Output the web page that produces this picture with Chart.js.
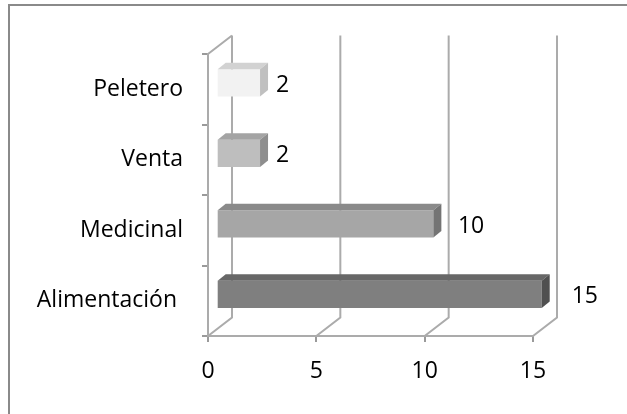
<!DOCTYPE html>
<html>
<head>
<meta charset="utf-8">
<script src="https://cdn.jsdelivr.net/npm/chart.js@4/dist/chart.umd.min.js"></script>
<style>
  html, body { margin: 0; padding: 0; background: #fff; }
  #wrap { position: relative; width: 627px; height: 414px; }
</style>
</head>
<body>
<div id="wrap"><canvas id="c" width="627" height="414"></canvas></div>
<script>
// Categories from top to bottom, with their counts
const categories = ['Peletero', 'Venta', 'Medicinal', 'Alimentación '];
const values = [2, 2, 10, 15];
const xTickValues = [0, 5, 10, 15];

// Shades of gray for the front, top and side faces of each box
const frontColors = ['#f2f2f2', '#bebebe', '#a6a6a6', '#7f7f7f'];
const topColors   = ['#d2d2d2', '#a4a4a4', '#8a8a8a', '#676767'];
const sideColors  = ['#c0c0c0', '#8e8e8e', '#747474', '#505050'];

const FONT = "'Open Sans', 'Noto Sans', sans-serif";
const FONT_SIZE = 23;
const LINE = '#ababab';
const WALL = { dx: 24, dy: -18.5 };       // offset of the back wall
const BAR_SHIFT = { dx: 8.7, dy: -6.4 };  // boxes sit a little inside the depth
const BAR_DEPTH = { dx: 8, dy: -6.5 };    // thickness of each box

const frame3d = {
  id: 'frame3d',
  beforeDraw(chart) {
    const ctx = chart.ctx;
    ctx.save();
    ctx.fillStyle = '#fff';
    ctx.fillRect(0, 0, chart.width, chart.height);
    ctx.fillStyle = '#8a8a8a';
    ctx.fillRect(8, 4, chart.width - 8, 2);
    ctx.fillRect(8, 4, 2, chart.height - 4);
    ctx.restore();
  },
  beforeDatasetsDraw(chart) {
    const { ctx, chartArea: a, scales: { x } } = chart;
    ctx.save();
    ctx.strokeStyle = LINE;
    ctx.lineWidth = 2;
    ctx.beginPath();
    xTickValues.forEach(v => {
      const px = x.getPixelForValue(v);
      ctx.moveTo(px, a.bottom);
      ctx.lineTo(px + WALL.dx, a.bottom + WALL.dy);
      ctx.lineTo(px + WALL.dx, a.top + WALL.dy);
    });
    ctx.moveTo(a.left, a.top);
    ctx.lineTo(a.left + WALL.dx, a.top + WALL.dy);
    ctx.stroke();
    ctx.restore();
    // push the bars back into the depth of the box
    ctx.save();
    ctx.translate(BAR_SHIFT.dx, BAR_SHIFT.dy);
  },
  afterDatasetsDraw(chart) {
    const ctx = chart.ctx;
    const meta = chart.getDatasetMeta(0);
    const { dx, dy } = BAR_DEPTH;
    meta.data.forEach((bar, i) => {
      const { x: x1, y, base: x0, height } = bar.getProps(['x', 'y', 'base', 'height'], true);
      const yt = y - height / 2, yb = y + height / 2;
      ctx.fillStyle = topColors[i];
      ctx.beginPath();
      ctx.moveTo(x0, yt); ctx.lineTo(x0 + dx, yt + dy);
      ctx.lineTo(x1 + dx, yt + dy); ctx.lineTo(x1, yt);
      ctx.closePath(); ctx.fill();
      ctx.fillStyle = sideColors[i];
      ctx.beginPath();
      ctx.moveTo(x1, yt); ctx.lineTo(x1 + dx, yt + dy);
      ctx.lineTo(x1 + dx, yb + dy); ctx.lineTo(x1, yb);
      ctx.closePath(); ctx.fill();
    });
    ctx.restore();

    // value labels beside each box
    const x = chart.scales.x;
    const x0 = x.getPixelForValue(0);
    ctx.save();
    ctx.fillStyle = '#000';
    ctx.font = FONT_SIZE + 'px ' + FONT;
    ctx.textAlign = 'left';
    ctx.textBaseline = 'middle';
    meta.data.forEach((bar, i) => {
      const v = values[i];
      const px = x.getPixelForValue(v);
      const lx = px + (px - x0) * 0.05 + 22.4;
      ctx.fillText(String(v), lx, bar.y + BAR_SHIFT.dy + 2.5);
    });
    ctx.restore();
  }
};

new Chart(document.getElementById('c'), {
  type: 'bar',
  data: {
    labels: categories,
    datasets: [{
      data: values,
      backgroundColor: frontColors,
      borderWidth: 0,
      categoryPercentage: 1,
      barPercentage: 0.384,
      clip: false
    }]
  },
  options: {
    indexAxis: 'y',
    responsive: false,
    animation: false,
    layout: { padding: { top: 54, right: 94, left: 0, bottom: 0 } },
    plugins: { legend: { display: false }, tooltip: { enabled: false } },
    scales: {
      x: {
        min: 0, max: 15,
        ticks: { stepSize: 5, color: '#000', font: { family: FONT, size: FONT_SIZE }, padding: 16 },
        grid: { drawOnChartArea: false, drawTicks: true, tickLength: 6, color: '#9a9a9a', lineWidth: 2 },
        border: { color: LINE, width: 2 },
        afterFit(s) { s.height = 78; }
      },
      y: {
        ticks: { color: '#000', font: { family: FONT, size: FONT_SIZE }, padding: 19 },
        grid: { drawOnChartArea: false, tickLength: 6, color: '#9a9a9a', lineWidth: 2, offset: true },
        border: { color: LINE, width: 2 },
        afterFit(s) { s.width = 208; }
      }
    }
  },
  plugins: [frame3d]
});
</script>
</body>
</html>
